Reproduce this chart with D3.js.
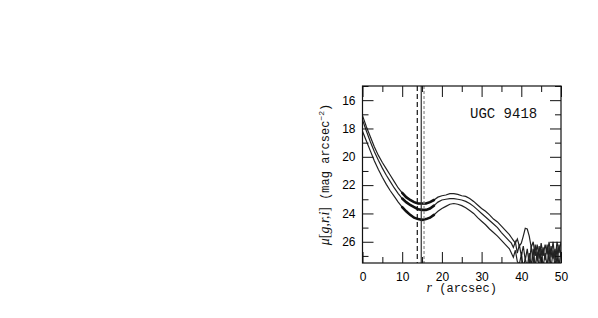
<!DOCTYPE html>
<html>
<head>
<meta charset="utf-8">
<script src="https://cdn.jsdelivr.net/npm/d3@7"></script>
<style>
  body { margin: 0; background: #fff; }
  svg { display: block; }
  .tick text { font-family: "Liberation Sans", Arial, sans-serif; font-size: 12px; fill: #000; }
  .tick line { stroke: #111; stroke-width: 1; }
  .domain { display: none; }
</style>
</head>
<body>
<svg id="chart" width="598" height="318"></svg>
<script>
// radius grid (arcsec)
const radius = [0, 1, 2, 3, 4, 5, 6, 7, 8, 9, 10, 11, 12, 13, 14, 15, 16, 17, 18, 19,
  20, 21, 22, 23, 24, 25, 26, 27, 28, 29, 30, 31, 32, 33, 34, 35, 36, 37,
  37.5, 38, 38.5, 39, 39.5, 40, 40.5, 41, 41.5, 42, 42.5, 43, 43.5, 44, 44.5,
  45, 45.5, 46, 46.5, 47, 47.5, 48, 48.5, 49, 49.5, 50];

// surface brightness profiles (mag arcsec^-2)
const muI = [17.1, 17.9, 18.6, 19.3, 19.9, 20.4, 20.85, 21.3, 21.75, 22.2, 22.55, 22.85, 23.05, 23.2, 23.3, 23.3, 23.3, 23.2, 23.05, 22.85,
  22.75, 22.7, 22.6, 22.6, 22.65, 22.75, 22.8, 22.95, 23.15, 23.4, 23.65, 23.85, 24.1, 24.4, 24.6, 24.9, 25.2, 25.5,
  25.7, 25.9, 26.1, 25.8, 26.3, 26.1, 25.6, 25.05, 25.1, 25.6, 26.4, 26.0, 27.0, 26.2, 27.2,
  26.1, 27.0, 26.2, 26.9, 26.0, 27.1, 26.0, 27.3, 26.0, 26.8, 26.0];
const muR = [17.4, 18.2, 18.95, 19.65, 20.25, 20.8, 21.3, 21.75, 22.2, 22.6, 22.95, 23.2, 23.4, 23.55, 23.7, 23.75, 23.75, 23.65, 23.45, 23.2,
  23.05, 23.0, 22.95, 22.95, 23.0, 23.05, 23.15, 23.3, 23.5, 23.75, 24.0, 24.25, 24.5, 24.75, 25.0, 25.35, 25.65, 25.95,
  26.1, 26.4, 26.0, 26.8, 26.2, 27.0, 26.3, 27.3, 26.5, 27.6, 26.3, 27.5, 26.2, 27.4, 26.3,
  27.6, 26.4, 27.3, 26.2, 27.5, 26.3, 27.2, 26.5, 27.6, 26.2, 27.0];
const muG = [18.2, 18.9, 19.6, 20.3, 20.9, 21.45, 21.95, 22.4, 22.8, 23.2, 23.55, 23.85, 24.1, 24.3, 24.4, 24.45, 24.4, 24.3, 24.1, 23.85,
  23.65, 23.5, 23.35, 23.3, 23.35, 23.45, 23.6, 23.8, 24.0, 24.3, 24.55, 24.8, 25.1, 25.35, 25.6, 25.9, 26.2, 26.5,
  26.8, 27.1, 26.6, 27.4, 27.6, 26.9, 27.8, 27.2, 27.8, 26.8, 27.7, 26.5, 27.8, 26.7, 27.9,
  26.5, 27.8, 26.8, 27.7, 26.4, 27.9, 26.6, 27.8, 26.4, 27.7, 26.6];

const fitRange = [10, 18];
const markers = [
  { r: 13.8, dash: '5,3', color: '#111' },
  { r: 14.8, dash: null, color: '#333' },
  { r: 15.5, dash: '3,2', color: '#888' }
];
const xMajor = [0, 10, 20, 30, 40, 50];
const xMinor = [5, 15, 25, 35, 45];
const yMajor = [16, 18, 20, 22, 24, 26];
const yMinor = [15, 17, 19, 21, 23, 25, 27];
const label = 'UGC 9418';

const svg = d3.select('#chart');
const x = d3.scaleLinear().domain([0, 50]).range([362.5, 561]);
const y = d3.scaleLinear().domain([15, 27.5]).range([86, 263]);
const [x0, x1] = x.range();
const [y0, y1] = y.range();

// clip to the frame
svg.append('defs').append('clipPath').attr('id', 'frame')
  .append('rect')
  .attr('x', x0).attr('y', y0)
  .attr('width', x1 - x0).attr('height', y1 - y0);

const plot = svg.append('g').attr('clip-path', 'url(#frame)');

const line = d3.line()
  .x(d => x(d[0]))
  .y(d => y(d[1]));

[muI, muR, muG].forEach(series => {
  let pts = radius.map((r, i) => [r, series[i]]);
  plot.append('path')
    .attr('d', line(pts))
    .attr('fill', 'none')
    .attr('stroke', '#222')
    .attr('stroke-width', 1.2);
  // thicker over the fitted range
  plot.append('path')
    .attr('d', line(pts.filter(p => p[0] >= fitRange[0] && p[0] <= fitRange[1])))
    .attr('fill', 'none')
    .attr('stroke', '#111')
    .attr('stroke-width', 2.6)
    .attr('stroke-linecap', 'round');
});

markers.forEach(m => {
  plot.append('line')
    .attr('x1', x(m.r)).attr('x2', x(m.r))
    .attr('y1', y0).attr('y2', y1)
    .attr('stroke', m.color)
    .attr('stroke-width', 1.2)
    .attr('stroke-dasharray', m.dash);
});

// axes, ticks pointing inwards on all four sides
svg.append('g').attr('transform', `translate(0,${y1})`)
  .call(d3.axisBottom(x).tickValues(xMajor).tickSize(-11).tickPadding(9).tickFormat(d3.format('d')));
svg.append('g').attr('transform', `translate(0,${y1})`)
  .call(d3.axisBottom(x).tickValues(xMinor).tickSize(-6).tickFormat(''));
svg.append('g').attr('transform', `translate(0,${y0})`)
  .call(d3.axisTop(x).tickValues(xMajor).tickSize(-11).tickFormat(''));
svg.append('g').attr('transform', `translate(0,${y0})`)
  .call(d3.axisTop(x).tickValues(xMinor).tickSize(-6).tickFormat(''));
svg.append('g').attr('transform', `translate(${x0},0)`)
  .call(d3.axisLeft(y).tickValues(yMajor).tickSize(-11).tickPadding(7).tickFormat(d3.format('d')));
svg.append('g').attr('transform', `translate(${x0},0)`)
  .call(d3.axisLeft(y).tickValues(yMinor).tickSize(-6).tickFormat(''));
svg.append('g').attr('transform', `translate(${x1},0)`)
  .call(d3.axisRight(y).tickValues(yMajor).tickSize(-11).tickFormat(''));
svg.append('g').attr('transform', `translate(${x1},0)`)
  .call(d3.axisRight(y).tickValues(yMinor).tickSize(-6).tickFormat(''));

svg.append('rect')
  .attr('x', x0).attr('y', y0)
  .attr('width', x1 - x0).attr('height', y1 - y0)
  .attr('fill', 'none')
  .attr('stroke', '#111')
  .attr('stroke-width', 1.2);

svg.append('text')
  .attr('x', 470).attr('y', 118)
  .attr('font-family', '"Liberation Mono", "DejaVu Sans Mono", monospace')
  .attr('font-size', 14)
  .attr('fill', '#111')
  .text(label);

// x label
let xl = svg.append('text')
  .attr('x', (x0 + x1) / 2).attr('y', 292)
  .attr('text-anchor', 'middle')
  .attr('font-family', '"Liberation Mono", "DejaVu Sans Mono", monospace')
  .attr('font-size', 12)
  .attr('fill', '#111');
xl.append('tspan').attr('font-style', 'italic').attr('font-family', '"Liberation Serif", serif').attr('font-size', 14).text('r');
xl.append('tspan').text(' (arcsec)');

// y label
let yl = svg.append('text')
  .attr('transform', `translate(329,${(y0 + y1) / 2}) rotate(-90)`)
  .attr('text-anchor', 'middle')
  .attr('font-family', '"Liberation Mono", "DejaVu Sans Mono", monospace')
  .attr('font-size', 12)
  .attr('fill', '#111');
yl.append('tspan').attr('font-style', 'italic').attr('font-family', '"Liberation Serif", serif').attr('font-size', 14).text('μ');
yl.append('tspan').attr('font-family', '"Liberation Serif", serif').attr('font-size', 14).text('[');
yl.append('tspan').attr('font-style', 'italic').attr('font-family', '"Liberation Serif", serif').attr('font-size', 14).text('g,r,i');
yl.append('tspan').attr('font-family', '"Liberation Serif", serif').attr('font-size', 14).text(']');
yl.append('tspan').text(' (mag arcsec');
yl.append('tspan').attr('dy', -5).attr('font-size', 8).text('−2');
yl.append('tspan').attr('dy', 5).text(')');
</script>
</body>
</html>
